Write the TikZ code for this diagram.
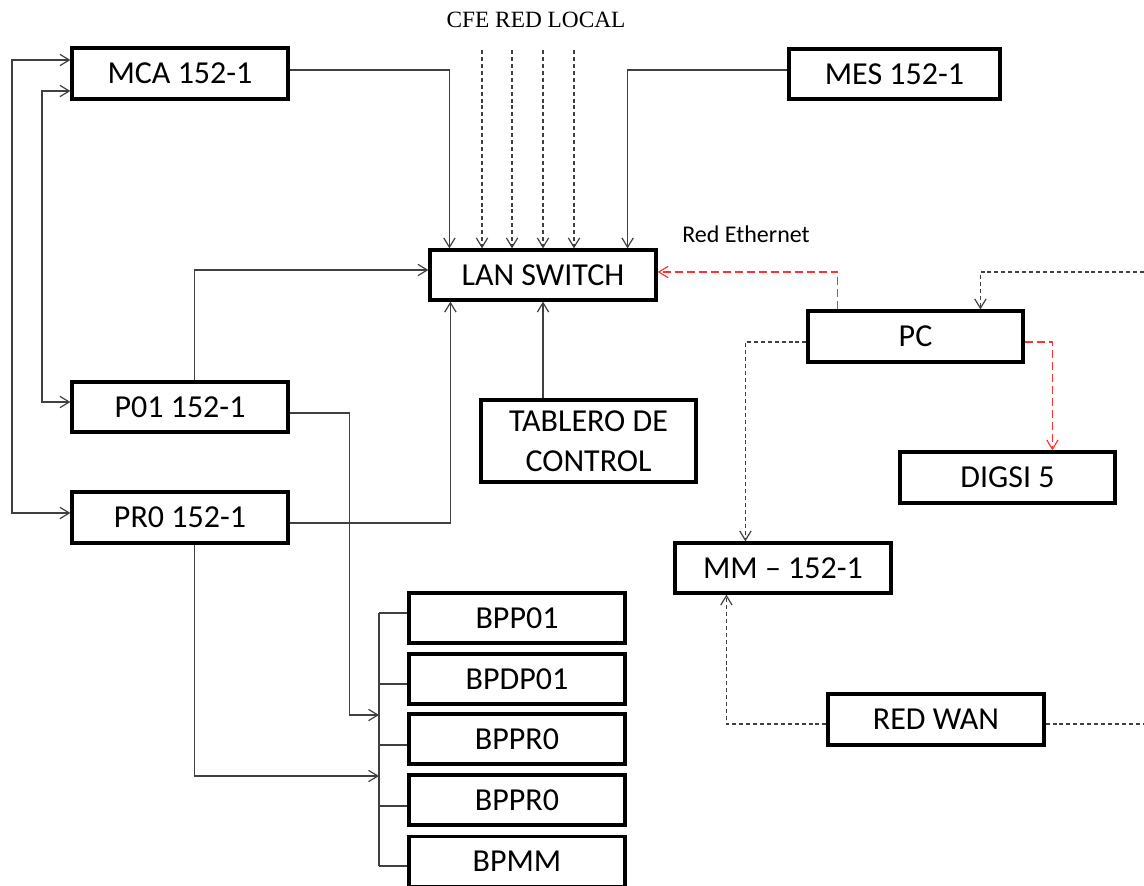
\documentclass[tikz,border=0pt]{standalone}
\usepackage{fontspec}
\setmainfont{Carlito}
\newfontfamily\serifcfe{Liberation Serif}
\usetikzlibrary{arrows.meta,calc}
\definecolor{lnk}{HTML}{404040}
\definecolor{eth}{HTML}{FF3333}
\tikzset{
  blk/.style={draw=black,line width=2.4pt,inner sep=0pt,font=\fontsize{24}{30}\selectfont,align=center},
  tip/.style={-{Straight Barb[length=7pt,width=8.5pt]}},
  conn/.style={draw=lnk,line width=0.9pt,tip},
  gdash/.style={draw=lnk,line width=0.9pt,dash pattern=on 3pt off 2.2pt,tip},
  rdash/.style={draw=eth,line width=0.9pt,dash pattern=on 6pt off 3pt,tip},
  bus/.style={draw=lnk,line width=0.9pt},
}
\begin{document}
\begin{tikzpicture}[x=0.75pt,y=-0.75pt]
\useasboundingbox (0,0) rectangle (1144,885);
% boxes
\node[blk,minimum width=216*0.75pt,minimum height=51*0.75pt] (mca) at (180,73.5) {MCA 152-1};
\node[blk,minimum width=211*0.75pt,minimum height=50*0.75pt] (mes) at (894.5,74) {MES 152-1};
\node[blk,minimum width=226*0.75pt,minimum height=50*0.75pt] (lan) at (543,275) {LAN SWITCH};
\node[blk,minimum width=215*0.75pt,minimum height=82*0.75pt] (tab) at (588.5,441) {TABLERO DE\\CONTROL};
\node[blk,minimum width=215*0.75pt,minimum height=51*0.75pt] (pc) at (915.5,336.5) {PC};
\node[blk,minimum width=215*0.75pt,minimum height=51*0.75pt] (digsi) at (1007.5,477.5) {DIGSI 5};
\node[blk,minimum width=216*0.75pt,minimum height=50*0.75pt] (mm) at (783,568) {MM -- 152-1};
\node[blk,minimum width=216*0.75pt,minimum height=51*0.75pt] (wan) at (936,719.5) {RED WAN};
\node[blk,minimum width=216*0.75pt,minimum height=50*0.75pt] (p01) at (180,407) {P01 152-1};
\node[blk,minimum width=216*0.75pt,minimum height=51*0.75pt] (pr0) at (180,517.5) {PR0 152-1};
\node[blk,minimum width=216*0.75pt,minimum height=50*0.75pt] (b1) at (517,618) {BPP01};
\node[blk,minimum width=216*0.75pt,minimum height=50*0.75pt] (b2) at (517,679) {BPDP01};
\node[blk,minimum width=216*0.75pt,minimum height=50*0.75pt] (b3) at (517,739) {BPPR0};
\node[blk,minimum width=216*0.75pt,minimum height=50*0.75pt] (b4) at (517,800) {BPPR0};
\node[blk,minimum width=216*0.75pt,minimum height=50*0.75pt] (b5) at (517,861.5) {BPMM};
% labels
\node[font=\serifcfe\fontsize{17.5}{20}\selectfont] (cfe) at (536,20) {CFE RED LOCAL};
\node[font=\fontsize{18}{20}\selectfont] (ethl) at (746,234) {Red Ethernet};
% free-end coordinates
\coordinate (c1) at (482,50);
\coordinate (c2) at (512,50);
\coordinate (c3) at (543,50);
\coordinate (c4) at (574,50);
\coordinate (ra) at (1144,272);
\coordinate (rb) at (1144,724);
\coordinate (lo) at (12,0);
\coordinate (li) at (42,0);
\coordinate (bt) at (379,613);
\coordinate (bb) at (379,866);
\coordinate (m1) at ($(mca.west)+(0,-13.5)$);
\coordinate (m2) at ($(mca.west)+(0,17.5)$);
\coordinate (p1) at ($(p01.west)+(0,-5)$);
\coordinate (r1) at ($(pr0.west)+(0,-4.5)$);
\coordinate (t2) at ($(b2.west)+(0,5)$);
\coordinate (t3) at ($(b3.west)+(0,6)$);
\coordinate (t4) at ($(b4.west)+(0,6)$);
% connectors to LAN SWITCH
\draw[conn] ($(mca.east)+(0,-3.5)$) -| ($(lan.north west)+(21,0)$);
\draw[conn] ($(mes.west)+(0,-4)$) -| ($(lan.north east)+(-30,0)$);
\foreach \c in {c1,c2,c3,c4} \draw[gdash] (\c) -- (\c |- lan.north);
\draw[conn] ($(p01.north west)+(124,0)$) |- ($(lan.west)+(0,-5)$);
\draw[conn] ($(pr0.east)+(0,5.5)$) -| ($(lan.south west)+(22,0)$);
\draw[conn] (lan.south |- tab.north) -- (lan.south);
% Ethernet / PC
\draw[rdash] ($(pc.north west)+(31,0)$) |- ($(lan.east)+(0,-3)$);
\draw[gdash] (ra) -| ($(pc.north west)+(174,0)$);
\draw[rdash] ($(pc.east)+(0,5.5)$) -| ($(digsi.north west)+(154,0)$);
\draw[gdash] ($(pc.west)+(0,5.5)$) -| ($(mm.north west)+(72,0)$);
\draw[gdash] ($(wan.west)+(0,4.5)$) -| ($(mm.south west)+(53,0)$);
\draw[gdash,-] ($(wan.east)+(0,4.5)$) -- (rb);
% left loops
\draw[conn,{Straight Barb[length=7pt,width=8.5pt]}-{Straight Barb[length=7pt,width=8.5pt]}]
  (m1) -- (m1 -| lo) |- (r1);
\draw[conn,{Straight Barb[length=7pt,width=8.5pt]}-{Straight Barb[length=7pt,width=8.5pt]}]
  (m2) -- (m2 -| li) |- (p1);
% to bus
\draw[conn] ($(p01.east)+(0,6)$) -- ++(60,0) |- ($(bt)+(0,102)$);
\draw[conn] ($(pr0.south west)+(124,0)$) |- ($(bt)+(0,163)$);
\draw[bus] (bt) -- (bb);
\draw[bus] (bt) -- ($(b1.west)+(0,-5)$);
\draw[bus] (t2 -| bt) -- (t2);
\draw[bus] (t3 -| bt) -- (t3);
\draw[bus] (t4 -| bt) -- (t4);
\draw[bus] (bb) -- (bb -| b5.west);
\end{tikzpicture}
\end{document}
